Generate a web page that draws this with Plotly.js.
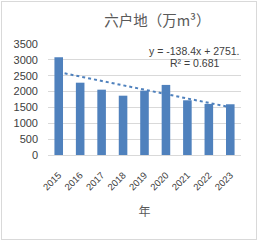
<!DOCTYPE html>
<html><head><meta charset="utf-8">
<script src="https://cdn.plot.ly/plotly-3.0.1.min.js"></script>
<style>
html,body{margin:0;padding:0;background:#fff;}
#wrap{position:relative;width:258px;height:241px;}
#chart{position:absolute;left:0;top:0;width:258px;height:241px;}
#frame{position:absolute;left:1px;top:1px;width:254px;height:237px;border:1px solid #d9d9d9;pointer-events:none;}
</style></head>
<body>
<div id="wrap"><div id="chart"></div><div id="frame"></div></div>
<script>
const years = ['2015','2016','2017','2018','2019','2020','2021','2022','2023'];
const volumes = [3080, 2280, 2060, 1870, 2030, 2210, 1725, 1610, 1600];
const trendSlope = -138.4;
const trendIntercept = 2751;
const chartTitle = '六户地（万m³）';
const xTitle = '年';
const eqText = 'y = -138.4x + 2751.';
const r2Text = 'R² = 0.681';

const trendY = years.map((_, i) => trendSlope * (i + 1) + trendIntercept);
const grey = '#595959';
const font = 'Liberation Sans, Arial, sans-serif';

const data = [
  {type:'bar', x: years, y: volumes, marker:{color:'#4f81bd'}, hoverinfo:'none'},
  {type:'scatter', mode:'lines', x: years, y: trendY, line:{color:'#4f81bd', width:2, dash:'dot'}, hoverinfo:'none'}
];
const layout = {
  width:258, height:241,
  margin:{l:48, r:17, t:44, b:86},
  paper_bgcolor:'rgba(0,0,0,0)', plot_bgcolor:'#fff',
  showlegend:false, bargap:0.6,
  title:{text: chartTitle, x:0.61, xanchor:'center', y:0.915, yanchor:'middle',
         font:{family:'Noto Sans CJK SC, sans-serif', size:14.5, color:grey}},
  xaxis:{type:'category', tickangle:-45, showgrid:false, showline:true, linecolor:'#d9d9d9',
         ticks:'', ticklabelstandoff:10, tickfont:{family:font, size:9.5, color:'#404040'},
         title:{text:xTitle, standoff:16, font:{family:'Noto Sans CJK SC, sans-serif', size:12, color:grey}}},
  yaxis:{range:[0,3500], dtick:500, showgrid:true, gridcolor:'#d9d9d9', zeroline:false,
         ticks:'', ticklabelstandoff:9, tickfont:{family:font, size:11, color:'#404040'}},
  annotations:[
    {xref:'paper', yref:'paper', x:1.0, y:1.005, xanchor:'right', yanchor:'top', text:eqText, showarrow:false,
     font:{family:font, size:10.5, color:'#404040'}},
    {xref:'paper', yref:'paper', x:0.759, y:0.905, xanchor:'center', yanchor:'top', text:r2Text, showarrow:false,
     font:{family:font, size:10.5, color:'#404040'}}
  ]
};
Plotly.newPlot('chart', data, layout, {staticPlot:true, displayModeBar:false});
</script>
</body></html>
